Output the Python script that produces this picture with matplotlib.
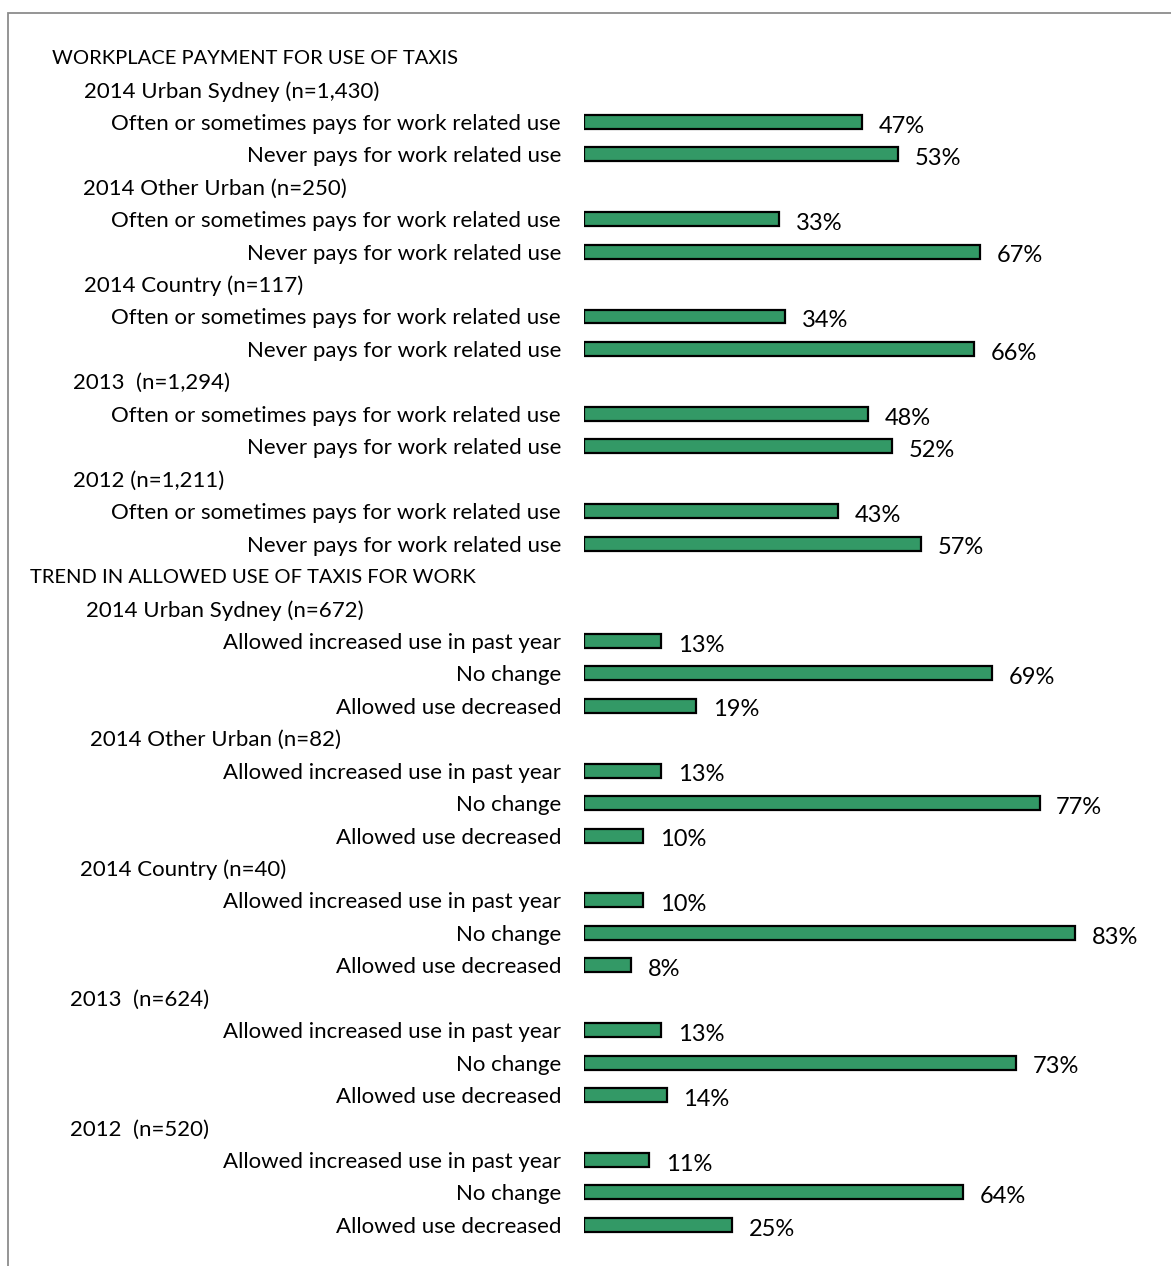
import matplotlib.pyplot as plt
from matplotlib.patches import Rectangle
from matplotlib.transforms import blended_transform_factory

plt.rcParams['font.family'] = ['Lato', 'DejaVu Sans']
plt.rcParams['font.size'] = 16

# ---- workplace payment section
pay_title = 'WORKPLACE PAYMENT FOR USE OF TAXIS'
pay_groups = ['2014 Urban Sydney (n=1,430)', '2014 Other Urban (n=250)',
              '2014 Country (n=117)', '2013  (n=1,294)', '2012 (n=1,211)']
pay_items = ['Often or sometimes pays for work related use',
             'Never pays for work related use']
pay_often = [47, 33, 34, 48, 43]
pay_never = [53, 67, 66, 52, 57]

# ---- trend section
trend_title = 'TREND IN ALLOWED USE OF TAXIS FOR WORK'
trend_groups = ['2014 Urban Sydney (n=672)', '2014 Other Urban (n=82)',
                '2014 Country (n=40)', '2013  (n=624)', '2012  (n=520)']
trend_items = ['Allowed increased use in past year', 'No change',
               'Allowed use decreased']
trend_inc = [13, 13, 10, 13, 11]
trend_same = [69, 77, 83, 73, 64]
trend_dec = [19, 10, 8, 14, 25]

# left edge (pixels) of each header line, as laid out in the sheet
pay_indent = [52, 84, 83, 84, 73, 73]
trend_indent = [30, 86, 90, 80, 70, 70]

W, H = 1171, 1266
fig = plt.figure(figsize=(W / 100, H / 100), dpi=100)

# build rows: (kind, text, value, indent)
rows = [('title', pay_title, None, pay_indent[0])]
for i, g in enumerate(pay_groups):
    rows.append(('head', g, None, pay_indent[i + 1]))
    rows.append(('bar', pay_items[0], pay_often[i], None))
    rows.append(('bar', pay_items[1], pay_never[i], None))
rows.append(('title', trend_title, None, trend_indent[0]))
for i, g in enumerate(trend_groups):
    rows.append(('head', g, None, trend_indent[i + 1]))
    rows.append(('bar', trend_items[0], trend_inc[i], None))
    rows.append(('bar', trend_items[1], trend_same[i], None))
    rows.append(('bar', trend_items[2], trend_dec[i], None))

n = len(rows)
top_px, step = 57, 32.44
y0 = top_px - step / 2
y1 = top_px + step * (n - 1) + step / 2
x0 = 584
px_per = 5.916
ax = fig.add_axes([x0 / W, 1 - y1 / H, (W - x0) / W, (y1 - y0) / H])
ax.set_xlim(0, (W - x0) / px_per)
ax.set_ylim(n - 0.5, -0.5)
ax.axis('off')

dy = 0.06  # nudge text baseline down a touch
trans = blended_transform_factory(fig.transFigure, ax.transData)
for i, (kind, text, val, ind) in enumerate(rows):
    if kind == 'title':
        ax.text(ind / W, i + dy, text, transform=trans, ha='left',
                va='center', fontsize=14.5)
    elif kind == 'head':
        ax.text(ind / W, i + dy, text, transform=trans, ha='left',
                va='center')
    else:
        ax.barh(i, val, height=0.43, color='#339966', edgecolor='black',
                linewidth=1.6)
        ax.text(-23 / px_per, i + dy, text, ha='right', va='center',
                clip_on=False)
        ax.annotate(f'{val}%', (val, i), xytext=(12, -3),
                    textcoords='offset points', ha='left', va='center',
                    fontsize=17)

# chart border
fig.patches.append(Rectangle((8 / W, -0.05), 1.2, 1.05 - 13 / H,
                             transform=fig.transFigure, fill=False,
                             edgecolor='#8c8c8c', linewidth=1.3))

fig.savefig('out.png', dpi=100)
